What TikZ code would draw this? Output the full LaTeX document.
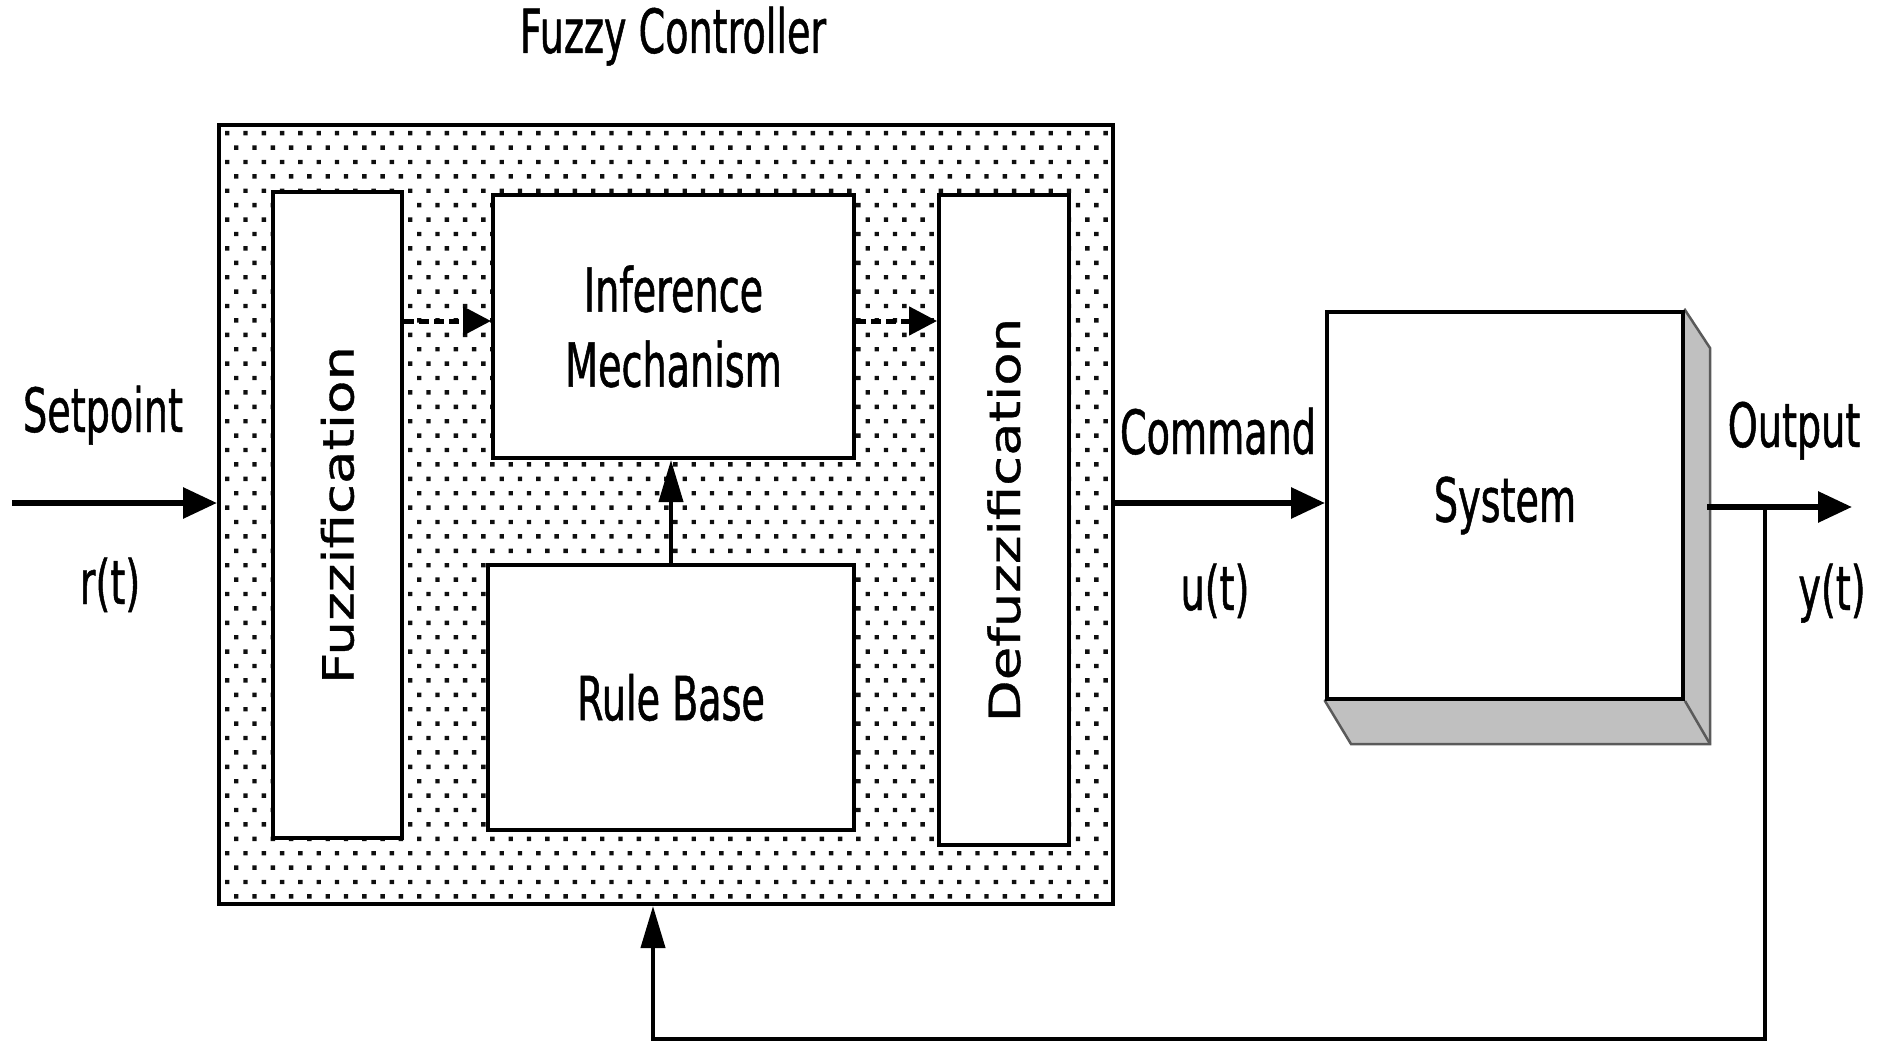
\documentclass[tikz,border=0pt]{standalone}
\usepackage{fontspec}
\usepackage{graphicx}
\setmainfont{DejaVu Sans}
\newfontfamily\labelfont[FakeStretch=0.625,FakeBold=0.8]{DejaVu Sans}
\newfontfamily\sidefont[FakeStretch=1.27,FakeBold=0.8]{DejaVu Sans}
\usepackage{tikz}
\usetikzlibrary{arrows.meta,positioning,calc,backgrounds}
\definecolor{SideGray}{RGB}{192,192,192}
\definecolor{EdgeGray}{RGB}{90,90,90}
\definecolor{DotGray}{RGB}{15,15,15}

\begin{document}
\begin{tikzpicture}[x=1pt,y=-1pt,
   block/.style={draw,line width=4pt,fill=white,inner sep=0pt,align=center,
     font=\labelfont\fontsize{61}{75}\selectfont},
   lbl/.style={inner sep=0pt,anchor=base,font=\labelfont\fontsize{61}{75}\selectfont},
   sig/.style={-{Triangle[length=34pt,width=30pt]},line width=6pt},
   back/.style={-{Triangle[length=42pt,width=24pt]},line width=4pt},
   flow/.style={-{Triangle[length=28pt,width=28pt]},line width=5pt,dash pattern=on 10pt off 5pt}]
  \useasboundingbox (0,0) rectangle (1885,1043);
  % dotted controller area
  \begin{scope}
    \clip (221,127) rectangle (1111,902);
    \fill[DotGray] \foreach \j in {0,...,54}{\foreach \i in {0,...,49}{
      ({225+18.3*\i+9*mod(\j,2)},{131+14.4*\j}) rectangle ++(4.4,4.4)}};
  \end{scope}
  \node[draw,line width=4pt,minimum width=894pt,minimum height=779pt] (ctrl) at (666,514.5) {};
  \node[block,minimum width=129pt,minimum height=646pt] (fuzz) at (337.5,515)
     {\rotatebox{90}{\sidefont\fontsize{43}{50}\selectfont Fuzzification}};
  \node[block,minimum width=361pt,minimum height=263pt] (infer) at (673.5,326.5)
     {Inference\\Mechanism};
  \node[block,minimum width=366pt,minimum height=265pt] (rule) at (671,697.5) {Rule Base};
  \node[block,minimum width=130pt,minimum height=650pt] (defuzz) at (1004,520)
     {\rotatebox{90}{\sidefont\fontsize{43}{50}\selectfont Defuzzification}};
  % plant block with 3D sides
  \node[block,minimum width=356pt,minimum height=387pt] (sys) at (1505,505.5) {System};
  \begin{scope}[on background layer]
    \filldraw[fill=SideGray,draw=EdgeGray,line width=2.5pt] (sys.north east) -- ++(25,38)
      -- ($(sys.south east)+(25,43)$) -- ($(sys.south west)+(26,43)$) -- (sys.south west) -- cycle;
    \draw[EdgeGray,line width=2.5pt] (sys.south east) -- ++(25,43);
  \end{scope}
  % labels
  \node[lbl] (title) at (673,53) {Fuzzy Controller};
  \node[lbl] (setpt) at (103,432) {Setpoint};
  \node[lbl] (rt) at (110,604) {r(t)};
  \node[lbl] (cmd) at (1218,454) {Command};
  \node[lbl] (ut) at (1215,610) {u(t)};
  \node[lbl] (outlbl) at (1794,447) {Output};
  \node[lbl] (yt) at (1832,610) {y(t)};
  % signals
  \coordinate (in) at (12,503);
  \coordinate (out) at (1852,507);
  \coordinate (tap) at (1765,507);
  \coordinate (fb) at (653,1039);
  \coordinate (lvl) at (0,321);
  \draw[sig] (in) -- (in -| ctrl.west);
  \draw[sig] (ctrl.east |- in) -- (sys.west |- in);
  \draw[sig] ($(out -| sys.east)+(22,0)$) -- (out);
  \draw[flow] (fuzz.east |- lvl) -- (infer.west |- lvl);
  \draw[flow] (infer.east |- lvl) -- (defuzz.west |- lvl);
  \draw[back] (rule.north) -- (rule.north |- infer.south);
  \draw[back] (tap) |- (fb) -- (fb |- ctrl.south);
\end{tikzpicture}
\end{document}
